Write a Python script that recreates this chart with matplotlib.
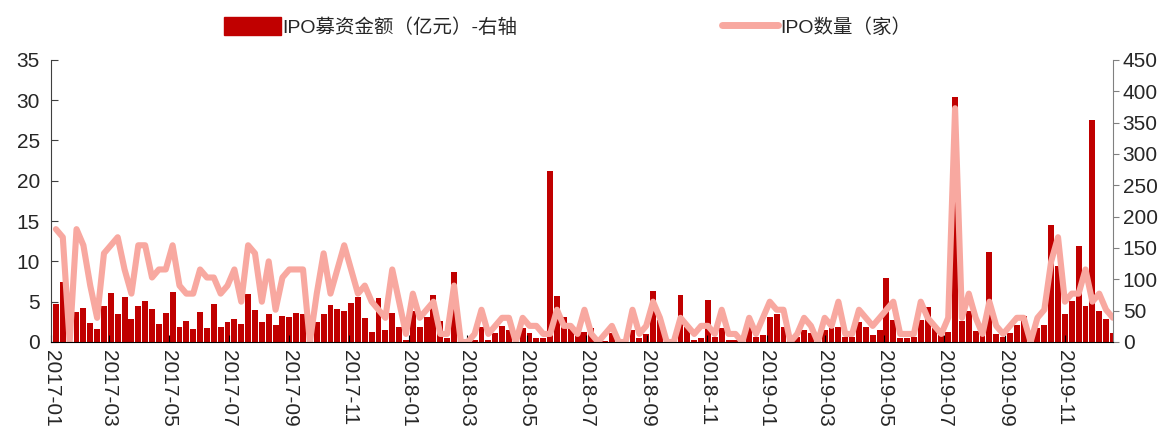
import pandas as pd
import matplotlib
matplotlib.use('Agg')
import matplotlib.pyplot as plt
import matplotlib.dates as mdates
from matplotlib.lines import Line2D
import matplotlib.patches as mpatches

plt.rcParams['font.family'] = ['Liberation Sans', 'Noto Sans CJK SC', 'DejaVu Sans']

# weekly data, 2017-01-06 .. 2019-12-20
weeks = pd.date_range('2017-01-06', periods=155, freq='7D')

# IPO募资金额（亿元）- right axis, bars
amount = [61, 95, 0, 48, 55, 31, 20, 58, 78, 45,
          72, 36, 58, 65, 53, 29, 47, 80, 24, 34,
          20, 48, 22, 60, 24, 32, 36, 29, 77, 51,
          32, 45, 27, 41, 40, 47, 45, 0, 32, 45,
          59, 53, 50, 62, 71, 38, 16, 70, 19, 47,
          24, 3, 50, 24, 40, 75, 34, 6, 111, 0,
          0, 3, 24, 3, 14, 26, 19, 0, 22, 15,
          7, 7, 272, 74, 40, 24, 19, 16, 22, 3,
          2, 14, 0, 0, 19, 6, 13, 82, 35, 3,
          0, 75, 24, 3, 6, 67, 8, 22, 3, 3,
          0, 27, 8, 11, 40, 45, 24, 3, 8, 19,
          14, 3, 19, 22, 24, 8, 8, 32, 24, 11,
          19, 102, 35, 7, 7, 8, 35, 56, 22, 11,
          16, 391, 33, 50, 17, 11, 144, 13, 8, 14,
          27, 42, 0, 23, 27, 186, 121, 45, 65, 153,
          58, 354, 50, 37, 15]

# IPO数量（家）- left axis, line
count = [14, 13, 0, 14, 12, 7, 3, 11, 12, 13,
         9, 6, 12, 12, 8, 9, 9, 12, 7, 6,
         6, 9, 8, 8, 6, 7, 9, 5, 12, 11,
         5, 10, 4, 8, 9, 9, 9, 0, 6, 11,
         6, 9, 12, 9, 6, 7, 5, 4, 3, 9,
         5, 1, 6, 3, 4, 5, 1, 1, 7, 0,
         0, 1, 4, 1, 2, 3, 3, 0, 3, 2,
         2, 1, 1, 4, 2, 2, 1, 4, 1, 0,
         1, 2, 0, 0, 4, 1, 2, 5, 3, 0,
         0, 3, 2, 1, 2, 2, 1, 4, 1, 1,
         0, 3, 1, 3, 5, 4, 4, 0, 1, 3,
         2, 0, 3, 2, 5, 1, 1, 4, 3, 2,
         3, 4, 5, 1, 1, 1, 5, 3, 2, 1,
         3, 29, 3, 6, 3, 1, 5, 2, 1, 2,
         3, 3, 0, 3, 4, 10, 13, 5, 6, 6,
         9, 5, 6, 4, 3]

bar_color = '#C00000'
line_color = '#F8A8A0'
txt = '#262626'

fig = plt.figure(figsize=(11.73, 4.34), dpi=100)
ax = fig.add_axes([0.0435, 0.212, 0.9053, 0.65])
ax2 = ax.twinx()

ax2.bar(weeks, amount, width=6, color=bar_color, linewidth=0)
ax.plot(weeks, count, color=line_color, lw=4.4,
        solid_capstyle='round', solid_joinstyle='round')

# line above bars
ax.set_zorder(ax2.get_zorder() + 1)
ax.patch.set_visible(False)

ax.set_xlim(pd.Timestamp('2017-01-01'), weeks[-1])
ax.set_ylim(0, 35)
ax.set_yticks(range(0, 36, 5))
ax2.set_ylim(0, 450)
ax2.set_yticks(range(0, 451, 50))

ax.xaxis.set_major_locator(mdates.MonthLocator(bymonth=[1, 3, 5, 7, 9, 11]))
ax.xaxis.set_major_formatter(mdates.DateFormatter('%Y-%m'))
ax.tick_params(axis='x', direction='in', length=5, color='black',
               labelsize=15, labelcolor=txt, rotation=270, pad=6)
ax.tick_params(axis='y', direction='in', length=5, color='#404040',
               labelsize=15, labelcolor=txt, pad=8)
ax2.tick_params(axis='y', direction='out', length=4, color='#808080',
                labelsize=15, labelcolor=txt, pad=3)

for a in (ax, ax2):
    a.spines['top'].set_visible(False)
ax.spines['left'].set_color('#404040')
ax.spines['right'].set_visible(False)
ax2.spines['left'].set_visible(False)
ax2.spines['right'].set_color('#808080')
ax.spines['bottom'].set_color('black')
ax2.spines['bottom'].set_visible(False)

h1 = mpatches.Patch(color=bar_color, label='IPO募资金额（亿元）-右轴')
h2 = Line2D([], [], color=line_color, lw=5, solid_capstyle='round',
            label='IPO数量（家）')
fig.legend(handles=[h1, h2], loc='center', bbox_to_anchor=(0.484, 0.938),
           ncol=2, frameon=False, fontsize=14, handlelength=2.9,
           handleheight=1.0, handletextpad=0.1, columnspacing=10.5,
           labelcolor=txt)

fig.savefig('out.png', dpi=100)
